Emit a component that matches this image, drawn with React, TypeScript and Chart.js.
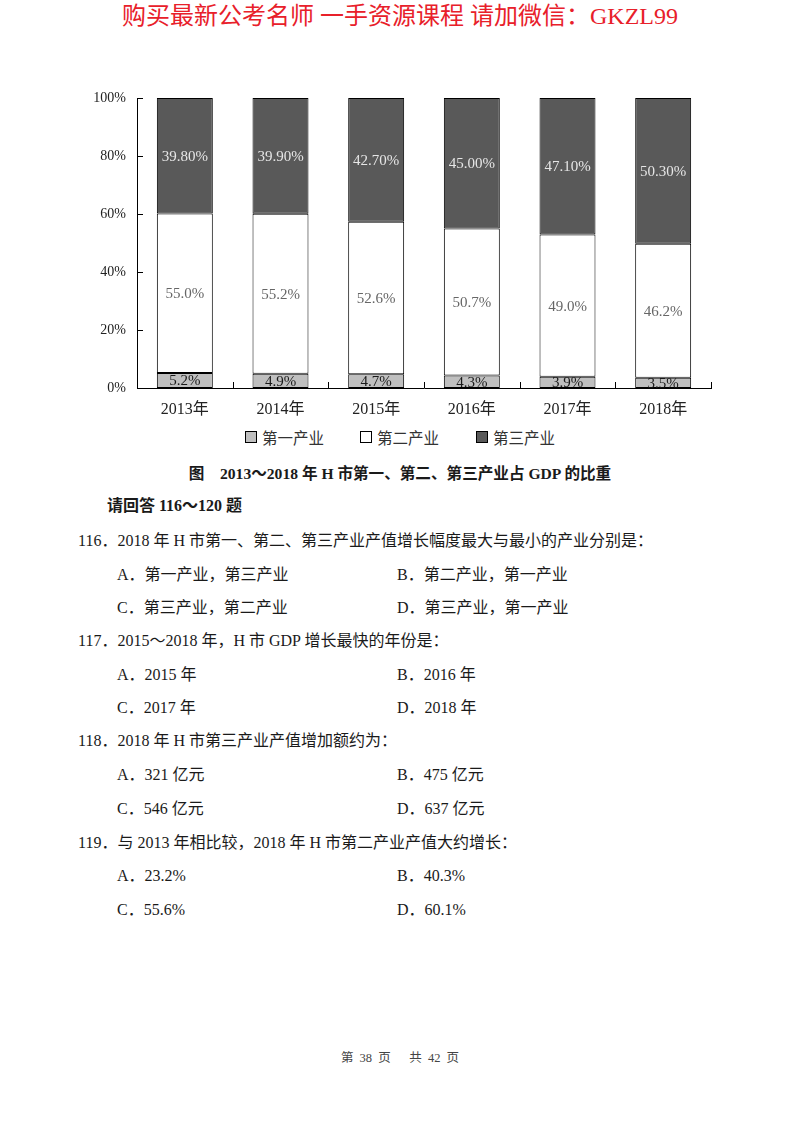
import { Chart, registerables } from "chart.js";
import { useEffect, useRef } from "react";

Chart.register(...registerables);

const years = ["2013年", "2014年", "2015年", "2016年", "2017年", "2018年"];
const primary = [5.2, 4.9, 4.7, 4.3, 3.9, 3.5];
const secondary = [55.0, 55.2, 52.6, 50.7, 49.0, 46.2];
const tertiary = [39.8, 39.9, 42.7, 45.0, 47.1, 50.3];
const seriesNames = ["第一产业", "第二产业", "第三产业"];
const yTicks = [0, 20, 40, 60, 80, 100];

const colorPalette = {
    primary: "#bfbfbf",
    secondary: "#ffffff",
    tertiary: "#595959",
};
const labelColors = ["#1a1a1a", "#666666", "#e6e6e6"];
const labelDecimals = [1, 1, 2];

const serif = '"Liberation Serif", "Noto Sans CJK SC", serif';

// draws value labels in the middle of each segment
const segmentLabels = {
    id: "segmentLabels",
    afterDatasetsDraw(chart: any) {
        const { ctx } = chart;
        ctx.save();
        ctx.font = `15px ${serif}`;
        ctx.textAlign = "center";
        ctx.textBaseline = "middle";
        chart.data.datasets.forEach((ds: any, di: number) => {
            const meta = chart.getDatasetMeta(di);
            meta.data.forEach((bar: any, i: number) => {
                const { x, y, base } = bar.getProps(["x", "y", "base"], true);
                ctx.fillStyle = labelColors[di];
                ctx.fillText(ds.data[i].toFixed(labelDecimals[di]) + "%", x, (y + base) / 2 + 1);
            });
        });
        ctx.restore();
    },
};

// excel style tick marks pointing into the plot
const innerTicks = {
    id: "innerTicks",
    afterDraw(chart: any) {
        const { ctx, chartArea, scales } = chart;
        ctx.save();
        ctx.strokeStyle = "#000";
        ctx.lineWidth = 1;
        ctx.beginPath();
        yTicks.forEach((v) => {
            const py = Math.round(scales.y.getPixelForValue(v)) + 0.5;
            ctx.moveTo(chartArea.left, py);
            ctx.lineTo(chartArea.left + 6, py);
        });
        for (let i = 0; i < years.length; i++) {
            const px = Math.round((scales.x.getPixelForValue(i) + scales.x.getPixelForValue(i + 1)) / 2) + 0.5;
            ctx.moveTo(px, chartArea.bottom);
            ctx.lineTo(px, chartArea.bottom - 6);
        }
        ctx.stroke();
        ctx.restore();
    },
};

const Line = ({ top, left, children, style }: any) => (
    <div
        style={{
            position: "absolute",
            top: top - 11,
            left,
            height: 22,
            lineHeight: "22px",
            whiteSpace: "nowrap",
            ...style,
        }}
    >
        {children}
    </div>
);

const App = () => {
    const canvasRef = useRef<HTMLCanvasElement | null>(null);
    const chartRef = useRef<any>(null);

    useEffect(() => {
        document.body.style.margin = "0";
        if (!canvasRef.current) return;
        if (chartRef.current) chartRef.current.destroy();

        const common = {
            borderColor: "#000",
            borderWidth: 1,
            borderSkipped: false,
            barPercentage: 0.585,
            categoryPercentage: 1,
        };

        chartRef.current = new Chart(canvasRef.current, {
            type: "bar",
            data: {
                labels: years,
                datasets: [
                    { label: seriesNames[0], data: primary, backgroundColor: colorPalette.primary, ...common },
                    { label: seriesNames[1], data: secondary, backgroundColor: colorPalette.secondary, ...common },
                    { label: seriesNames[2], data: tertiary, backgroundColor: colorPalette.tertiary, ...common },
                ],
            },
            options: {
                responsive: false,
                animation: false,
                layout: { padding: { top: 98, right: 89, left: 0, bottom: 0 } },
                scales: {
                    x: {
                        stacked: true,
                        grid: { display: false, drawTicks: false },
                        border: { color: "#000", width: 1 },
                        ticks: { color: "#222", font: { size: 16, family: serif }, padding: 12 },
                        afterFit: (s: any) => { s.height = 36; },
                    },
                    y: {
                        stacked: true,
                        min: 0,
                        max: 100,
                        grid: { display: false, drawTicks: false },
                        border: { color: "#000", width: 1 },
                        ticks: {
                            stepSize: 20,
                            color: "#222",
                            font: { size: 14, family: serif },
                            padding: 11,
                            callback: (v: any) => v + "%",
                        },
                        afterFit: (s: any) => { s.width = 137; },
                    },
                },
                plugins: {
                    legend: { display: false },
                    tooltip: { enabled: false },
                },
            },
            plugins: [segmentLabels, innerTicks],
        });

        return () => chartRef.current?.destroy();
    }, []);

    const legendColors = [colorPalette.primary, colorPalette.secondary, colorPalette.tertiary];
    const legendLeft = [245, 360, 476];

    return (
        <div style={{ position: "relative", width: 800, height: 1124, background: "#fff", fontFamily: serif, color: "#1a1a1a", fontSize: 16 }}>
            <div style={{ position: "absolute", top: 2, left: 0, width: 800, textAlign: "center", color: "#e8202a", fontSize: 24, lineHeight: "28px", whiteSpace: "nowrap" }}>
                购买最新公考名师 一手资源课程 请加微信：GKZL99
            </div>

            <canvas ref={canvasRef} width={800} height={424} style={{ position: "absolute", top: 0, left: 0, width: 800, height: 424 }} />

            {/* legend */}
            {seriesNames.map((name, i) => (
                <div key={name} style={{ position: "absolute", top: 427, left: legendLeft[i], height: 20, display: "flex", alignItems: "center", gap: 5, color: "#333", fontSize: 15.5 }}>
                    <div style={{ width: 10, height: 10, border: "1px solid #000", background: legendColors[i] }} />
                    <span>{name}</span>
                </div>
            ))}

            <Line top={474} left={0} style={{ width: 800, textAlign: "center", fontWeight: "bold", fontSize: 15.6 }}>
                图　2013～2018 年 H 市第一、第二、第三产业占 GDP 的比重
            </Line>
            <Line top={506} left={107} style={{ fontWeight: "bold" }}>请回答 116～120 题</Line>

            <Line top={541} left={78}>116．2018 年 H 市第一、第二、第三产业产值增长幅度最大与最小的产业分别是：</Line>
            <Line top={575} left={117}>A．第一产业，第三产业</Line>
            <Line top={575} left={397}>B．第二产业，第一产业</Line>
            <Line top={608} left={117}>C．第三产业，第二产业</Line>
            <Line top={608} left={397}>D．第三产业，第一产业</Line>

            <Line top={641} left={78}>117．2015～2018 年，H 市 GDP 增长最快的年份是：</Line>
            <Line top={675} left={117}>A．2015 年</Line>
            <Line top={675} left={397}>B．2016 年</Line>
            <Line top={708} left={117}>C．2017 年</Line>
            <Line top={708} left={397}>D．2018 年</Line>

            <Line top={741} left={78}>118．2018 年 H 市第三产业产值增加额约为：</Line>
            <Line top={775} left={117}>A．321 亿元</Line>
            <Line top={775} left={397}>B．475 亿元</Line>
            <Line top={809} left={117}>C．546 亿元</Line>
            <Line top={809} left={397}>D．637 亿元</Line>

            <Line top={843} left={78}>119．与 2013 年相比较，2018 年 H 市第二产业产值大约增长：</Line>
            <Line top={876} left={117}>A．23.2%</Line>
            <Line top={876} left={397}>B．40.3%</Line>
            <Line top={910} left={117}>C．55.6%</Line>
            <Line top={910} left={397}>D．60.1%</Line>

            <Line top={1058} left={0} style={{ width: 800, textAlign: "center", fontSize: 12.5, color: "#444", wordSpacing: 3 }}>
                第 38 页 　共 42 页
            </Line>
        </div>
    );
};

export default App;
